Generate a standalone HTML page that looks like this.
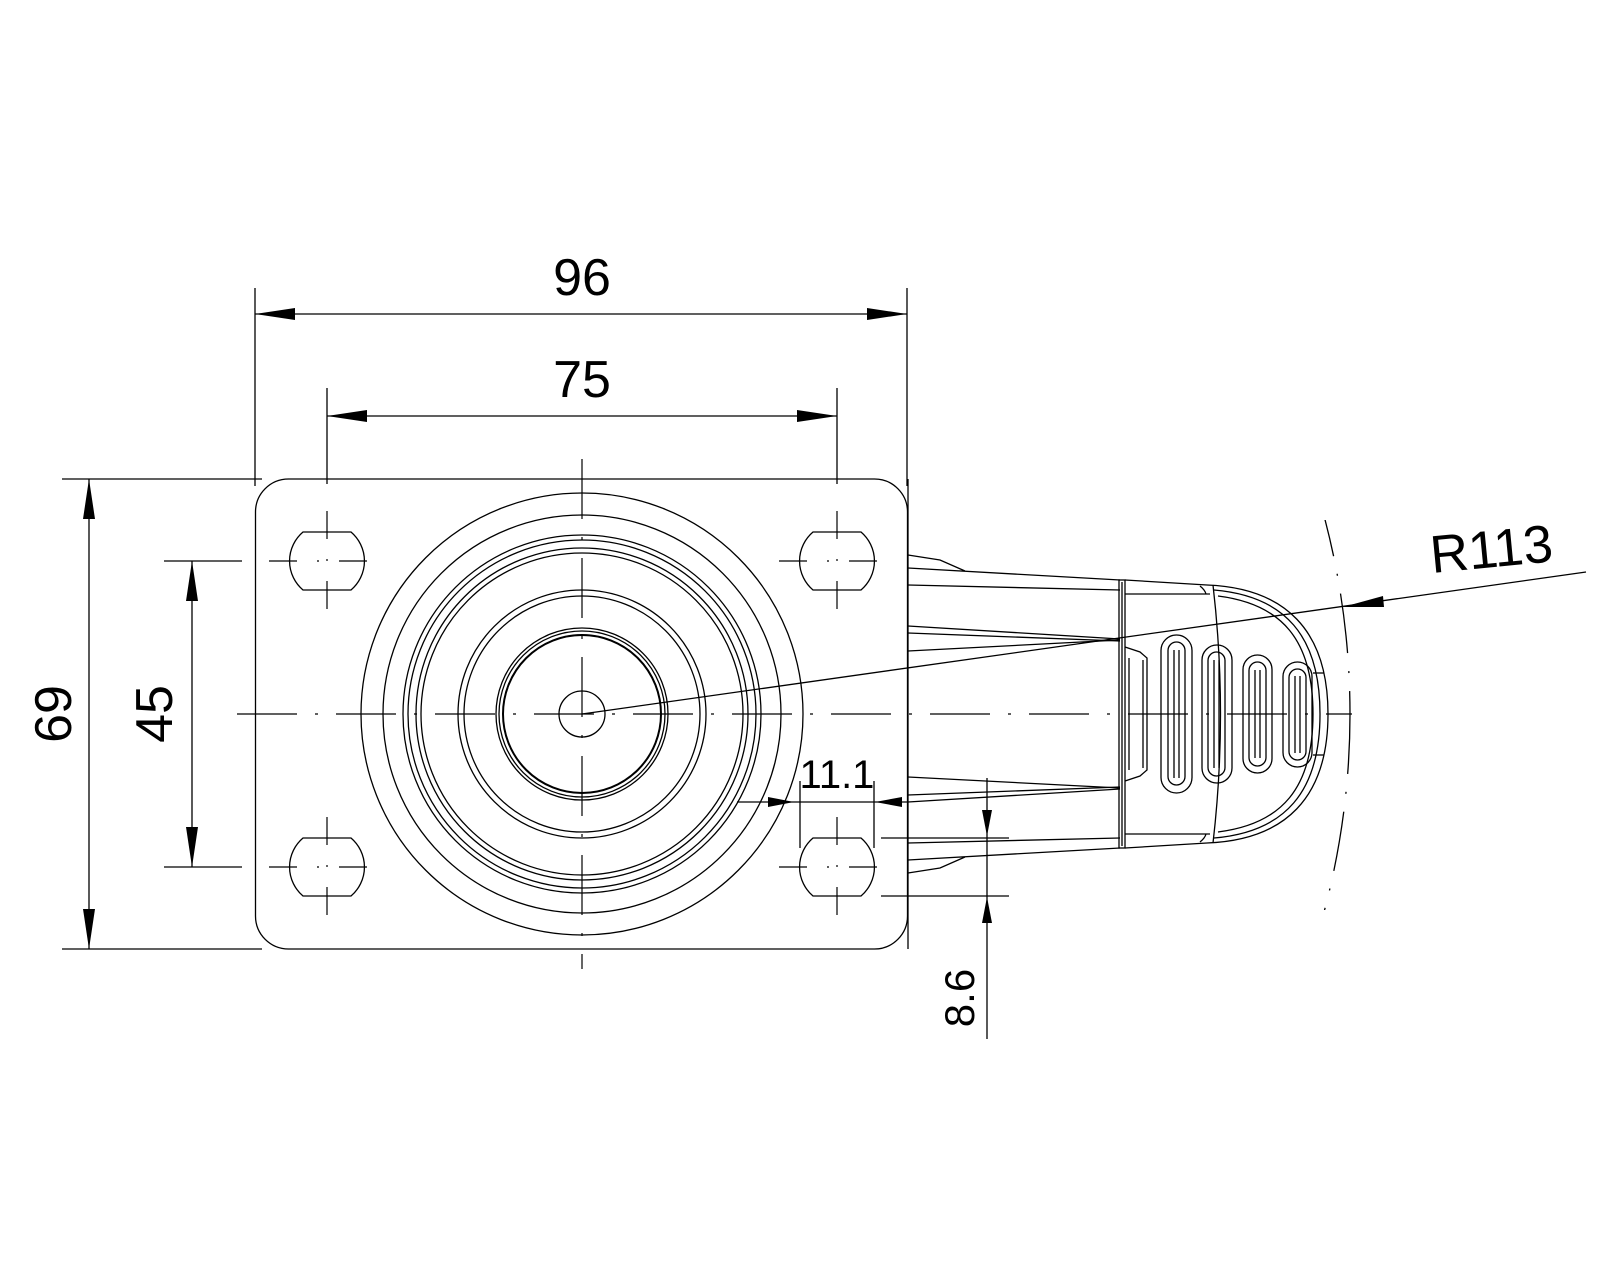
<!DOCTYPE html>
<html><head><meta charset="utf-8"><style>html,body{margin:0;padding:0;background:#fff;width:1600px;height:1280px;overflow:hidden}svg{display:block}</style></head>
<body>
<svg width="1600" height="1280" viewBox="0 0 1600 1280" xmlns="http://www.w3.org/2000/svg">
<defs>
<clipPath id="arcclip"><rect x="1290" y="520" width="310" height="390"/></clipPath>
</defs>
<g fill="none" stroke="#000" stroke-width="1.3">
<rect x="255.5" y="479" width="652" height="470" rx="33" ry="33"/>
<path d="M303 532 H351 A38 38 0 0 1 351 590 H303 A38 38 0 0 1 303 532 Z"/>
<path d="M813 532 H861 A38 38 0 0 1 861 590 H813 A38 38 0 0 1 813 532 Z"/>
<path d="M303 838 H351 A38 38 0 0 1 351 896 H303 A38 38 0 0 1 303 838 Z"/>
<path d="M813 838 H861 A38 38 0 0 1 861 896 H813 A38 38 0 0 1 813 838 Z"/>
<circle cx="582" cy="714" r="221"/>
<circle cx="582" cy="714" r="199"/>
<circle cx="582" cy="714" r="179"/>
<circle cx="582" cy="714" r="174"/>
<circle cx="582" cy="714" r="166"/>
<circle cx="582" cy="714" r="161"/>
<circle cx="582" cy="714" r="124"/>
<circle cx="582" cy="714" r="118"/>
<circle cx="582" cy="714" r="86"/>
<circle cx="582" cy="714" r="83"/>
<circle cx="582" cy="714" r="79" stroke-width="2"/>
<circle cx="582" cy="714" r="23"/>
<circle cx="582" cy="714" r="768" clip-path="url(#arcclip)" stroke-dasharray="60 18 2 18"/>
</g>
<g stroke="#000" stroke-width="1.2" fill="none">
<line x1="237" y1="714" x2="1352" y2="714" stroke-dasharray="60 18 3 18"/>
<line x1="582" y1="459" x2="582" y2="969" stroke-dasharray="60 18 3 18"/>
<g stroke-dasharray="28 20 2 20">
<line x1="269" y1="561" x2="386" y2="561"/><line x1="327" y1="511" x2="327" y2="612"/>
<line x1="779" y1="561" x2="896" y2="561"/><line x1="837" y1="511" x2="837" y2="612"/>
<line x1="269" y1="867" x2="386" y2="867"/><line x1="327" y1="817" x2="327" y2="918"/>
<line x1="779" y1="867" x2="896" y2="867"/><line x1="837" y1="817" x2="837" y2="918"/>
</g>
</g>
<g stroke="#000" stroke-width="1.3" fill="none">
<line x1="255" y1="288" x2="255" y2="486"/>
<line x1="907" y1="288" x2="907" y2="486"/>
<line x1="255" y1="314" x2="907" y2="314"/>
<line x1="327" y1="388" x2="327" y2="484"/>
<line x1="837" y1="388" x2="837" y2="484"/>
<line x1="327" y1="416" x2="837" y2="416"/>
<line x1="62" y1="479" x2="262" y2="479"/>
<line x1="62" y1="949" x2="262" y2="949"/>
<line x1="89" y1="479" x2="89" y2="949"/>
<line x1="164" y1="561" x2="242" y2="561"/>
<line x1="164" y1="867" x2="242" y2="867"/>
<line x1="192" y1="561" x2="192" y2="867"/>
<line x1="800" y1="781" x2="800" y2="848"/>
<line x1="874" y1="781" x2="874" y2="848"/>
<line x1="737" y1="802" x2="908" y2="802"/>
<line x1="987" y1="778" x2="987" y2="1039"/>
<line x1="881" y1="838" x2="1009" y2="838"/>
<line x1="881" y1="896" x2="1009" y2="896"/>
<line x1="582" y1="714" x2="1586" y2="572"/>
</g>
<g fill="#000">
<polygon points="255,314 295,308 295,320"/>
<polygon points="907,314 867,308 867,320"/>
<polygon points="327,416 367,410 367,422"/>
<polygon points="837,416 797,410 797,422"/>
<polygon points="89,479 83,519 95,519"/>
<polygon points="89,949 83,909 95,909"/>
<polygon points="192,561 186,601 198,601"/>
<polygon points="192,867 186,827 198,827"/>
<polygon points="794,802 768,797 768,807"/>
<polygon points="875,802 902,797 902,807"/>
<polygon points="987,836 982,810 992,810"/>
<polygon points="987,897 982,923 992,923"/>
<polygon points="1343,607 1383,596 1384,607"/>
</g>
<g fill="none" stroke="#000" stroke-width="1.3">
<line x1="908" y1="479" x2="908" y2="949"/>
<polyline points="908,555 940,560 965,571"/>
<polyline points="908,873 940,868 965,857"/>
<line x1="908" y1="568" x2="1120" y2="580"/>
<line x1="908" y1="585" x2="1120" y2="590"/>
<line x1="908" y1="626" x2="1120" y2="639"/>
<line x1="908" y1="633" x2="1120" y2="641"/>
<line x1="908" y1="651" x2="1120" y2="640"/>
<line x1="908" y1="860" x2="1120" y2="848"/>
<line x1="908" y1="843" x2="1120" y2="838"/>
<line x1="908" y1="802" x2="1120" y2="789"/>
<line x1="908" y1="795" x2="1120" y2="787"/>
<line x1="908" y1="777" x2="1120" y2="788"/>
<rect x="1119" y="580" width="6" height="268"/>
<line x1="1122" y1="582" x2="1122" y2="846"/>
<path d="M1125 647 L1140 652 L1147 658 L1147 770 L1140 776 L1125 781"/>
<line x1="1129" y1="658" x2="1129" y2="770"/>
<line x1="1143" y1="660" x2="1143" y2="768"/>
<line x1="1125" y1="580" x2="1207" y2="585"/>
<line x1="1125" y1="594" x2="1210" y2="594"/>
<line x1="1125" y1="848" x2="1207" y2="843"/>
<line x1="1125" y1="834" x2="1210" y2="834"/>
<path d="M1207 585 C1285 588 1328 630 1328 714 C1328 798 1285 840 1207 843"/>
<path d="M1214 590 C1285 596 1320 636 1320 714 C1320 792 1285 832 1214 838"/>
<path d="M1218 596 C1282 604 1313 640 1313 714 C1313 788 1282 824 1218 832"/>
<path d="M1213 585 Q1228 714 1213 843"/>
<path d="M1200 586 Q1205 590 1206 594"/><path d="M1200 842 Q1205 838 1206 834"/>
<line x1="1313" y1="673" x2="1324" y2="673"/>
<line x1="1313" y1="755" x2="1324" y2="755"/>
<rect x="1161" y="635" width="31" height="158" rx="15.5"/>
<rect x="1168" y="642" width="17" height="143" rx="8.5"/>
<line x1="1174" y1="650" x2="1174" y2="778"/><line x1="1179" y1="650" x2="1179" y2="778"/>
<rect x="1202" y="645" width="30" height="138" rx="15"/>
<rect x="1208" y="652" width="17" height="124" rx="8.5"/>
<line x1="1214" y1="660" x2="1214" y2="768"/><line x1="1219" y1="660" x2="1219" y2="768"/>
<rect x="1243" y="655" width="29" height="118" rx="14.5"/>
<rect x="1249" y="662" width="17" height="104" rx="8.5"/>
<line x1="1255" y1="670" x2="1255" y2="758"/><line x1="1260" y1="670" x2="1260" y2="758"/>
<rect x="1283" y="662" width="29" height="105" rx="14.5"/>
<rect x="1289" y="669" width="17" height="91" rx="8.5"/>
<line x1="1295" y1="676" x2="1295" y2="753"/><line x1="1300" y1="676" x2="1300" y2="753"/>
</g>
<g font-family="Liberation Sans, Arial, sans-serif" fill="#000">
<text x="582" y="295" font-size="52" text-anchor="middle">96</text>
<text x="582" y="397" font-size="52" text-anchor="middle">75</text>
<text transform="translate(71,714) rotate(-90)" font-size="52" text-anchor="middle">69</text>
<text transform="translate(172,714) rotate(-90)" font-size="52" text-anchor="middle">45</text>
<text x="837" y="788" font-size="40" text-anchor="middle">11.1</text>
<text transform="translate(974,998) rotate(-90)" font-size="42" text-anchor="middle">8.6</text>
<text transform="translate(1432,573) rotate(-5.5)" font-size="53">R113</text>
</g>
</svg>
</body></html>
